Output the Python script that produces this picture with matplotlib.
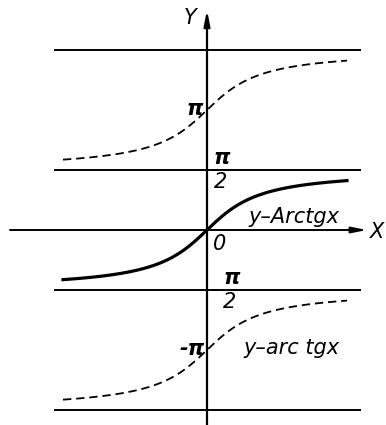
import matplotlib.pyplot as plt
import numpy as np

plt.rcParams['lines.scale_dashes'] = False

# branches of the multivalued arctg: offsets of each branch
branch_offsets = [np.pi, 0.0, -np.pi]
branch_styles = ['dashed', 'solid', 'dashed']
# asymptotes y = k*pi/2
asymptotes = [1.5 * np.pi, 0.5 * np.pi, -0.5 * np.pi, -1.5 * np.pi]
x_curve = np.linspace(-3.6, 3.5, 300)

txt = dict(family='DejaVu Sans', style='italic', fontsize=15, color='black')

fig = plt.figure(figsize=(3.86, 4.25), dpi=100)
ax = fig.add_axes([0, 0, 1, 1])
sx = 40.0    # px per x unit
sy = 38.2    # px per radian
ax.set_xlim(-207 / sx, (386 - 207) / sx)
ax.set_ylim(-(425 - 230) / sy, 230 / sy)
ax.axis('off')

def px(p):
    # horizontal pixel offset from the Y axis -> data x
    return p / sx

# asymptote lines
for a in asymptotes:
    if abs(a) < 1:
        # gap left for the label on the right of the axis
        ax.plot([px(-150), 0], [a, a], color='black', lw=1.4)
        ax.plot([px(41), px(153)], [a, a], color='black', lw=1.4)
    else:
        ax.plot([px(-152), px(153)], [a, a], color='black', lw=1.4)
ax.plot([px(5), px(17)], [-0.5 * np.pi] * 2, color='black', lw=1.2, dashes=(4, 3))
ax.plot([px(6), px(24)], [0.5 * np.pi] * 2, color='black', lw=1.3)

# curves
for off, st in zip(branch_offsets, branch_styles):
    y = np.arctan(x_curve) + off
    if st == 'solid':
        ax.plot(x_curve, y, color='black', lw=2.3)
    else:
        ax.plot(x_curve, y, color='black', lw=1.3, dashes=(6, 3.5))

# axes with arrows
ax.annotate('', xy=(px(160), 0), xytext=(px(-197), 0),
            arrowprops=dict(arrowstyle='-|>,head_length=0.9,head_width=0.18',
                            lw=1.4, color='black', shrinkA=0, shrinkB=0))
ax.annotate('', xy=(0, 220 / sy), xytext=(0, -(425 - 230) / sy),
            arrowprops=dict(arrowstyle='-|>,head_length=0.9,head_width=0.18',
                            lw=1.6, color='black', shrinkA=0, shrinkB=0))

ax.text(px(-17), 212 / sy, 'Y', ha='center', va='center', **txt)
ax.text(px(170), -2 / sy, 'X', ha='center', va='center', **txt)
ax.text(px(6), -0.1, '0', ha='left', va='top', **txt)

# tick labels
ax.text(px(-4), np.pi + 0.03, 'π', ha='right', va='center', fontweight='bold', **txt)
ax.text(px(-2), -np.pi + 0.03, '-π', ha='right', va='center', fontweight='bold', **txt)
ax.text(px(15), 0.5 * np.pi + 0.04, 'π', ha='center', va='bottom', fontweight='bold', **txt)
ax.text(px(14), 0.5 * np.pi - 0.04, '2', ha='center', va='top', **txt)
ax.text(px(25), -0.5 * np.pi + 0.04, 'π', ha='center', va='bottom', fontweight='bold', **txt)
ax.text(px(23), -0.5 * np.pi - 0.04, '2', ha='center', va='top', **txt)

ax.text(px(42), 0.35, 'y–Arctgx', ha='left', va='center', **txt)
ax.text(px(37), -np.pi + 0.05, 'y–arc tgx', ha='left', va='center', **txt)

fig.savefig('out.png', dpi=100)
